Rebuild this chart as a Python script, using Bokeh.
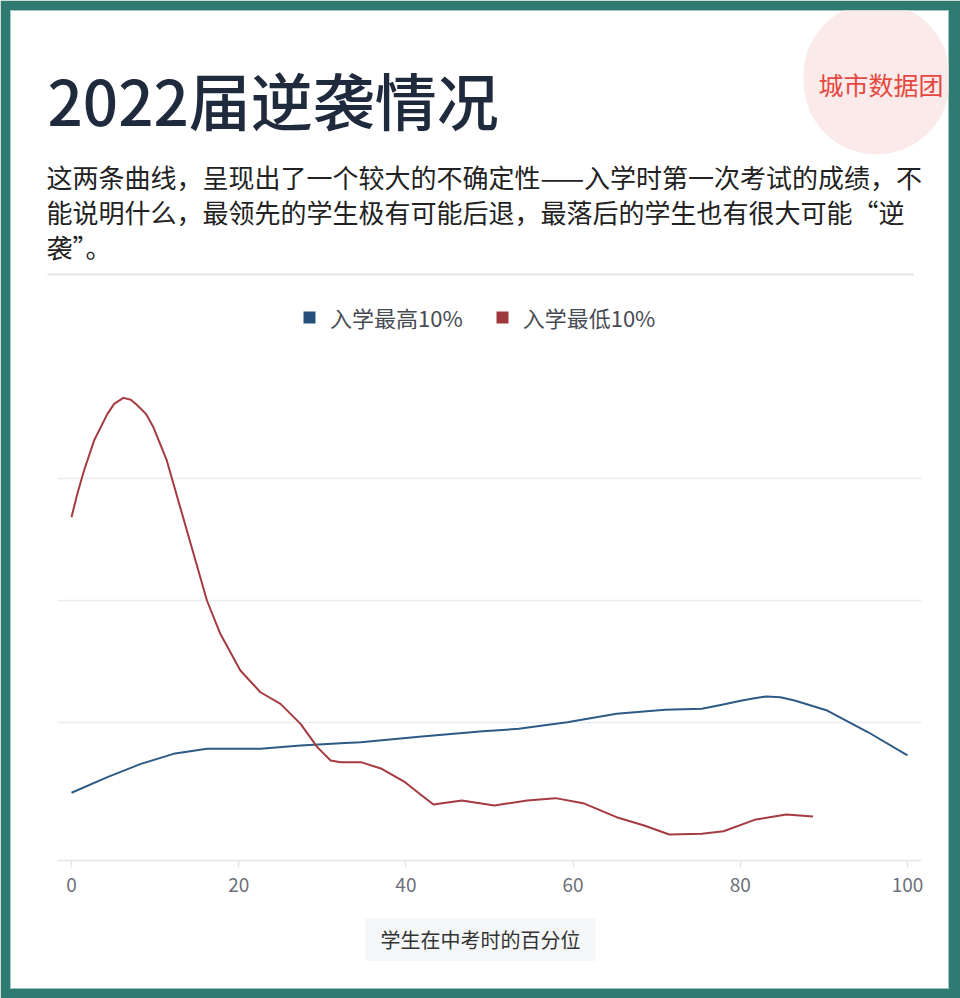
from bokeh.plotting import figure
from bokeh.models import Range1d, FixedTicker, Label, Legend, LegendItem, Arrow
from bokeh.embed import file_html
from bokeh.resources import INLINE

# ---------------- data ----------------
title_text = "2022届逆袭情况"
subtitle_lines = [
    "这两条曲线，呈现出了一个较大的不确定性——入学时第一次考试的成绩，不",
    "能说明什么，最领先的学生极有可能后退，最落后的学生也有很大可能“逆",
    "袭”。",
]
legend_labels = ["入学最高10%", "入学最低10%"]
x_axis_title = "学生在中考时的百分位"
brand_text = "城市数据团"
x_ticks = [0, 20, 40, 60, 80, 100]
y_grid_ticks = [1, 2, 3]

# 入学最高10%
top_x = [0, 4.3, 8.3, 12.2, 16.2, 22.6, 27.4, 32.2, 34.6, 41.9, 49.2, 53.5,
         59.3, 65.2, 71.0, 75.4, 77.8, 80.2, 81.7, 83.1, 84.8, 86.5, 90.4, 95.3, 100]
top_y = [0.424, 0.552, 0.661, 0.743, 0.784, 0.784, 0.811, 0.830, 0.839, 0.885, 0.929, 0.948,
         1.002, 1.071, 1.104, 1.112, 1.145, 1.180, 1.199, 1.213, 1.207, 1.180, 1.098, 0.920, 0.73]

# 入学最低10%
bottom_x = [0, 0.7, 1.5, 2.7, 4.3, 5.1, 6.2, 7.1, 7.9, 8.9, 9.8, 11.4, 13.0, 14.6, 16.2,
            17.8, 20.2, 22.6, 25.0, 27.4, 29.4, 31.0, 32.2, 34.6, 37.0, 39.9, 41.9, 43.3,
            46.7, 50.6, 54.5, 57.9, 61.2, 65.2, 68.5, 71.5, 75.4, 78.0, 81.7, 85.5, 88.7]
bottom_y = [2.683, 2.875, 3.066, 3.311, 3.530, 3.612, 3.661, 3.645, 3.598, 3.530, 3.420,
            3.148, 2.765, 2.383, 2.000, 1.727, 1.426, 1.248, 1.153, 0.989, 0.798, 0.689,
            0.675, 0.675, 0.623, 0.511, 0.402, 0.328, 0.361, 0.320, 0.361, 0.380, 0.339,
            0.224, 0.156, 0.082, 0.088, 0.109, 0.202, 0.246, 0.230]

# ---------------- style ----------------
FONT = "Noto Sans CJK SC"
FONT_MEDIUM = "Noto Sans CJK SC Medium, Noto Sans CJK SC"
BLUE = "#2d5b86"
RED = "#a53b40"
BLUE_SQ = "#234f7a"
RED_SQ = "#9e383c"
TEAL = "#2f7b72"


def px2x(px):
    # page pixel -> x data (x=0 at 71px, 8.36 px per unit)
    return (px - 71) / 8.36


def py2y(py):
    # page pixel -> y data (y=1 at 722px, 122 px per unit)
    return 1 + (722 - py) / 122


# the frame is the white card; the teal border is the figure border
p = figure(
    frame_width=938, frame_height=978,
    x_range=Range1d(px2x(10), px2x(948)),
    y_range=Range1d(py2y(988), py2y(10)),
    min_border_left=10, min_border_right=12,
    min_border_top=10, min_border_bottom=10,
    y_axis_location=None,
    output_backend="svg", toolbar_location=None,
    background_fill_color="white", border_fill_color=TEAL,
    outline_line_color="#9fc7c1", outline_line_width=1,
)
p.title.visible = False

# grid
p.xgrid.visible = False
p.ygrid.ticker = FixedTicker(ticks=y_grid_ticks)
p.ygrid.grid_line_color = "#e6edf3"
p.ygrid.grid_line_width = 1.5
grid_ok = True
try:
    p.ygrid[0].cross_bounds = (px2x(57), px2x(921))
except Exception:
    grid_ok = False
if not grid_ok:
    p.ygrid.visible = False
    n = len(y_grid_ticks)
    p.segment(x0=[px2x(57)] * n, x1=[px2x(921)] * n, y0=y_grid_ticks, y1=y_grid_ticks,
              line_color="#e6edf3", line_width=1.5)

# x axis drawn inside the card at the chart baseline
ax = p.xaxis[0]
ax.fixed_location = py2y(860)
ax.bounds = (px2x(57), px2x(921))
ax.ticker = FixedTicker(ticks=x_ticks)
ax.axis_line_color = "#e2e5ea"
ax.axis_line_width = 1.5
ax.major_tick_line_color = "#e2e5ea"
ax.major_tick_line_width = 1.5
ax.major_tick_out = 7
ax.major_tick_in = 0
ax.minor_tick_line_color = None
ax.major_label_text_font = FONT
ax.major_label_text_font_size = "19px"
ax.major_label_text_color = "#6e7079"
ax.major_label_standoff = 10

r_top = p.line(top_x, top_y, line_color=BLUE, line_width=2, line_join="round")
r_bot = p.line(bottom_x, bottom_y, line_color=RED, line_width=2, line_join="round")
s_top = p.scatter(top_x, top_y, marker="square", size=0, fill_color=BLUE_SQ, line_color=None)
s_bot = p.scatter(bottom_x, bottom_y, marker="square", size=0, fill_color=RED_SQ, line_color=None)

legend = Legend(
    items=[LegendItem(label=legend_labels[0], renderers=[s_top]),
           LegendItem(label=legend_labels[1], renderers=[s_bot])],
    orientation="horizontal", location=(284, 655),
    glyph_width=30, glyph_height=30, label_standoff=6, spacing=24,
    padding=0, margin=0, border_line_color=None, background_fill_alpha=0,
    label_text_font=FONT, label_text_font_size="22px", label_text_color="#474b53",
)
p.add_layout(legend)

# watermark
p.add_layout(Label(x=px2x(876), y=py2y(78), text=brand_text, text_font=FONT,
                   text_font_size="25px", text_color="#e4483f",
                   text_align="center", text_baseline="middle",
                   background_fill_color="#fbeaea",
                   padding=dict(left=15, right=6, top=63, bottom=53),
                   border_radius=73))

# title
p.add_layout(Label(x=px2x(47), y=py2y(98), text=title_text, text_font=FONT_MEDIUM,
                   text_font_size="62px", text_color="#1f2a3d",
                   text_align="left", text_baseline="middle"))

# subtitle lines
for i, line in enumerate(subtitle_lines):
    p.add_layout(Label(x=px2x(46), y=py2y(176 + 35 * i), text=line, text_font=FONT,
                       text_font_size="26px", text_color="#222222",
                       text_align="left", text_baseline="middle"))

# separator
p.add_layout(Arrow(end=None, x_start=px2x(47), x_end=px2x(913), y_start=py2y(274), y_end=py2y(274),
                   line_color="#e3e3e3", line_width=2))

# x-axis title box
p.add_layout(Label(x=px2x(480), y=py2y(939), text=x_axis_title, text_font=FONT,
                   text_font_size="20px", text_color="#333333",
                   text_align="center", text_baseline="middle",
                   background_fill_color="#f5f6f8",
                   padding=dict(left=15, right=15, top=7, bottom=7)))

open("out.html", "w").write(file_html(p, INLINE))
